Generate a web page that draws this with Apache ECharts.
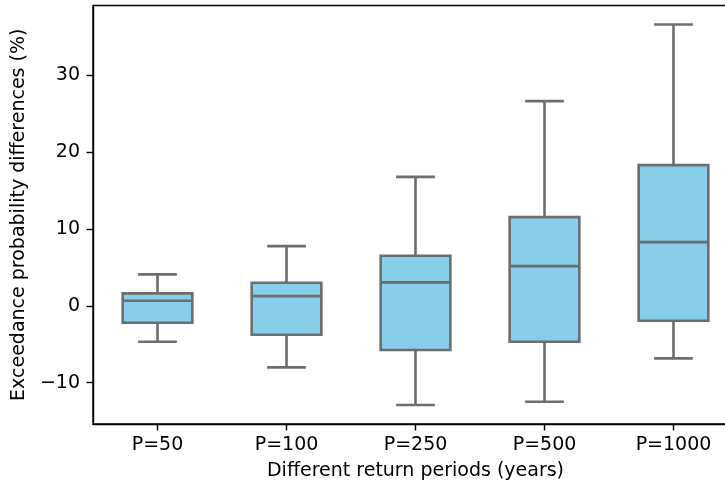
<!DOCTYPE html>
<html>
<head>
<meta charset="utf-8">
<script src="https://cdn.jsdelivr.net/npm/echarts@6/dist/echarts.min.js"></script>
<style>html,body{margin:0;padding:0;background:#fff}#c{width:725px;height:487px}</style>
</head>
<body>
<div id="c"></div>
<script>
const categories = ['P=50', 'P=100', 'P=250', 'P=500', 'P=1000'];
const whiskerLow = [-4.68, -8.01, -12.91, -12.48, -6.84];
const q1 = [-2.21, -3.77, -5.76, -4.68, -1.95];
const median = [0.65, 1.26, 3.04, 5.16, 8.28];
const q3 = [1.61, 2.99, 6.50, 11.53, 18.30];
const whiskerHigh = [4.08, 7.76, 16.77, 26.62, 36.59];
const yTicks = [-10, 0, 10, 20, 30];

const font = 'DejaVu Sans';
const edge = '#6d6d6d';
const fill = '#87ceeb';

const data = categories.map((c, i) => [i, whiskerLow[i], q1[i], median[i], q3[i], whiskerHigh[i]]);

const chart = echarts.init(document.getElementById('c'), null, {renderer: 'canvas'});
chart.setOption({
  animation: false,
  grid: {left: 93, width: 645, top: 5.5, height: 418.5, outerBoundsMode: 'none', containLabel: false,
    show: true, borderColor: '#000', borderWidth: 1.4, backgroundColor: 'transparent'},
  xAxis: {
    type: 'category',
    data: categories,
    boundaryGap: true,
    axisLine: {show: true, onZero: false, lineStyle: {color: '#000', width: 1.4}},
    axisTick: {show: true, alignWithLabel: true, length: 6.5, lineStyle: {color: '#000', width: 1.4}},
    axisLabel: {color: '#000', fontFamily: font, fontSize: 19, margin: 12},
    splitLine: {show: false},
    name: 'Different return periods (years)',
    nameLocation: 'middle',
    nameGap: 38,
    nameTextStyle: {color: '#000', fontFamily: font, fontSize: 19}
  },
  yAxis: {
    type: 'value',
    min: -15.38,
    max: 39.06,
    axisLine: {show: true, lineStyle: {color: '#000', width: 1.4}},
    axisTick: {show: true, length: 6.5, customValues: yTicks, lineStyle: {color: '#000', width: 1.4}},
    axisLabel: {color: '#000', fontFamily: font, fontSize: 19, margin: 13, customValues: yTicks,
      formatter: v => String(v).replace('-', '\u2212')},
    splitLine: {show: false},
    name: 'Exceedance probability differences (%)',
    nameLocation: 'middle',
    nameGap: 63,
    nameTextStyle: {color: '#000', fontFamily: font, fontSize: 19}
  },
  series: [{
    type: 'custom',
    data: data,
    clip: false,
    encode: {x: 0, y: [1, 2, 3, 4, 5]},
    renderItem: function (params, api) {
      const idx = api.value(0);
      const band = api.size([1, 0])[0];
      const pLow = api.coord([idx, api.value(1)]);
      const pQ1 = api.coord([idx, api.value(2)]);
      const pMed = api.coord([idx, api.value(3)]);
      const pQ3 = api.coord([idx, api.value(4)]);
      const pHigh = api.coord([idx, api.value(5)]);
      const cx = pMed[0];
      const bw = band * 0.54;
      const cw = band * 0.3;
      const lw = 2.6;
      const ls = {stroke: edge, lineWidth: lw, fill: null};
      return {
        type: 'group',
        children: [
          {type: 'line', shape: {x1: cx, y1: pQ1[1], x2: cx, y2: pLow[1]}, style: ls},
          {type: 'line', shape: {x1: cx, y1: pQ3[1], x2: cx, y2: pHigh[1]}, style: ls},
          {type: 'line', shape: {x1: cx - cw / 2, y1: pLow[1], x2: cx + cw / 2, y2: pLow[1]}, style: ls},
          {type: 'line', shape: {x1: cx - cw / 2, y1: pHigh[1], x2: cx + cw / 2, y2: pHigh[1]}, style: ls},
          {type: 'rect', shape: {x: cx - bw / 2, y: pQ3[1], width: bw, height: pQ1[1] - pQ3[1]},
            style: {fill: fill, stroke: edge, lineWidth: lw}},
          {type: 'line', shape: {x1: cx - bw / 2, y1: pMed[1], x2: cx + bw / 2, y2: pMed[1]}, style: ls}
        ]
      };
    }
  }]
});
</script>
</body>
</html>
